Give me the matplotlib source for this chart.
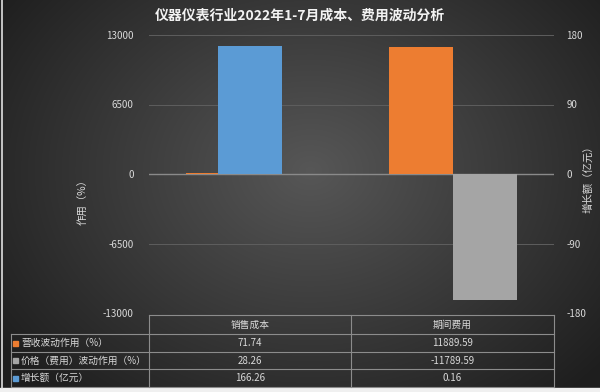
import numpy as np
import matplotlib.pyplot as plt

plt.rcParams['font.family'] = ['Noto Sans CJK SC', 'DejaVu Sans']
plt.rcParams['axes.unicode_minus'] = False

# data
categories = ['销售成本', '期间费用']
revenue_effect = [71.74, 11889.59]      # 营收波动作用（%）
price_effect = [28.26, -11789.59]       # 价格（费用）波动作用（%）
growth = [166.26, 0.16]                 # 增长额（亿元）
row_names = ['营收波动作用（%）', '价格（费用）波动作用（%）', '增长额（亿元）']
row_text = [['71.74', '11889.59'], ['28.26', '-11789.59'], ['166.26', '0.16']]
left_ticks = [-13000, -6500, 0, 6500, 13000]
right_ticks = [-180, -90, 0, 90, 180]

c_orange = '#ED7D31'
c_gray = '#A5A5A5'
c_blue = '#5B9BD5'
txt = '#d9d9d9'

W, H = 600, 392
fig = plt.figure(figsize=(6, 3.92), dpi=100)

# dark radial background
bg = fig.add_axes([0, 0, 1, 1], zorder=-10)
yy, xx = np.mgrid[0:H, 0:W]
r = np.sqrt(((xx - 310) / 380.0) ** 2 + ((yy - 170) / 300.0) ** 2)
shade = np.clip(0.34 - 0.22 * r, 0.12, 0.34)
bg.imshow(np.dstack([shade] * 3), extent=[0, W, H, 0], aspect='auto')
bg.plot([1.5, 1.5], [0, 388], color='#e0e0e0', lw=1.2)
bg.fill_between([0, W], 388, 392, color='#f0f0f0')
bg.set_xlim(0, W)
bg.set_ylim(H, 0)
bg.axis('off')

def fx(px):
    return px / W

def fy(py):
    return 1 - py / H

ax = fig.add_axes([fx(149), fy(313), fx(554) - fx(149), fy(35) - fy(313)])
ax.set_facecolor('none')
ax2 = ax.twinx()

x = np.arange(len(categories))
w = 0.317
ax.bar(x - w / 2, revenue_effect, w, color=c_orange, zorder=3)
ax.bar(x + w / 2, price_effect, w, color=c_gray, zorder=3)
ax2.bar(x, growth, w, color=c_blue, zorder=3)

ax.set_xlim(-0.5, 1.5)
ax.set_ylim(-13000, 13000)
ax2.set_ylim(-180, 180)
ax.set_yticks(left_ticks)
ax2.set_yticks(right_ticks)
ax.set_xticks([])
for a in (ax, ax2):
    for s in a.spines.values():
        s.set_visible(False)
    a.tick_params(axis='y', length=0, labelsize=7, colors=txt)
ax.tick_params(axis='y', pad=11)
ax2.tick_params(axis='y', pad=9)
ax.yaxis.grid(True, color='#5e5e5e', lw=0.7, zorder=0)
ax.axhline(0, color='#8a8a8a', lw=1.0, zorder=2)

ax.set_ylabel('作用（%）', color=txt, fontsize=7.5)
ax.yaxis.set_label_coords(-0.15, 0.41)
ax2.set_ylabel('增长额（亿元）', color=txt, fontsize=7.5, rotation=90, va='center')
ax2.yaxis.set_label_coords(1.085, 0.49)

fig.text(0.5, fy(16), '仪器仪表行业2022年1-7月成本、费用波动分析', ha='center', va='center',
         color='#f2f2f2', fontsize=10, fontweight='bold')

# data table
line_c = '#8c8c8c'
xs = [11, 149, 351, 554]
ys = [315, 334, 352, 369, 387]
def hline(y, x0, x1):
    fig.add_artist(plt.Line2D([fx(x0), fx(x1)], [fy(y), fy(y)], color=line_c, lw=0.8))
def vline(xp, y0, y1):
    fig.add_artist(plt.Line2D([fx(xp), fx(xp)], [fy(y0), fy(y1)], color=line_c, lw=0.8))

hline(ys[0], xs[1], xs[3])
for yv in ys[1:]:
    hline(yv, xs[0], xs[3])
vline(xs[0], ys[1], ys[4])
for xv in xs[1:]:
    vline(xv, ys[0], ys[4])

for j, cat in enumerate(categories):
    fig.text(fx((xs[j + 1] + xs[j + 2]) / 2), fy((ys[0] + ys[1]) / 2), cat,
             ha='center', va='center', color=txt, fontsize=7)
key_colors = [c_orange, c_gray, c_blue]
for i, name in enumerate(row_names):
    yc = (ys[i + 1] + ys[i + 2]) / 2
    fig.add_artist(plt.Rectangle((fx(13), fy(yc + 2.5)), fx(5), fy(yc - 2.5) - fy(yc + 2.5),
                                 color=key_colors[i]))
    fig.text(fx(21), fy(yc), name, ha='left', va='center', color=txt, fontsize=7)
    for j in range(len(categories)):
        fig.text(fx((xs[j + 1] + xs[j + 2]) / 2), fy(yc), row_text[i][j],
                 ha='center', va='center', color=txt, fontsize=7)

fig.savefig('out.png', dpi=100)
